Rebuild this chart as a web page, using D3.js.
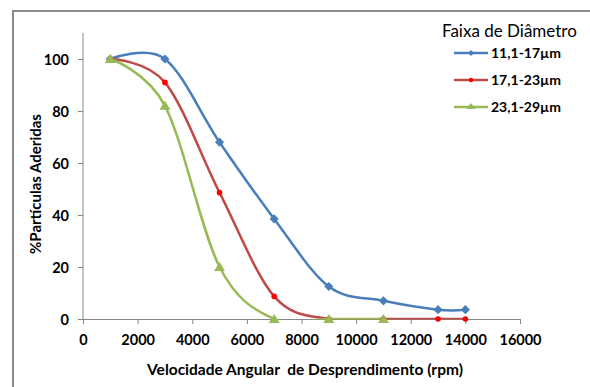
<!DOCTYPE html>
<html>
<head>
<meta charset="utf-8">
<script src="https://cdn.jsdelivr.net/npm/d3@7"></script>
<style>
  html, body { margin: 0; padding: 0; background: #fff; }
  svg { display: block; font-family: Lato, "Open Sans", sans-serif; }
</style>
</head>
<body>
<svg id="chart" width="590" height="387"></svg>
<script>
// Rotational speed (rpm) at which detachment was measured
const speedsBlue = [1000, 3000, 5000, 7000, 9000, 11000, 13000, 14000];
const speedsRed = [1000, 3000, 5000, 7000, 9000, 11000, 13000, 14000];
const speedsGreen = [1000, 3000, 5000, 7000, 9000, 11000];

// % particles still adhered, per diameter range
const adheredBlue = [100, 100, 68, 38.5, 12.5, 7, 3.6, 3.6];
const adheredRed = [100, 91, 48.6, 8.7, 0, 0, 0, 0];
const adheredGreen = [100, 82, 20, 0, 0, 0];

const seriesNames = ["11,1-17\u00b5m", "17,1-23\u00b5m", "23,1-29\u00b5m"];
const xTicks = [0, 2000, 4000, 6000, 8000, 10000, 12000, 14000, 16000];
const yTicks = [0, 20, 40, 60, 80, 100];

const series = [
  { name: seriesNames[0], xs: speedsBlue, ys: adheredBlue, color: "#4a7ebb", marker: "diamond", mcolor: "#4a7ebb" },
  { name: seriesNames[1], xs: speedsRed, ys: adheredRed, color: "#be4b48", marker: "circle", mcolor: "#ff0000" },
  { name: seriesNames[2], xs: speedsGreen, ys: adheredGreen, color: "#98b954", marker: "triangle", mcolor: "#98b954" }
];

const svg = d3.select("#chart");
const fontFam = "Lato, 'Open Sans', sans-serif";

// outer chart frame
svg.append("path")
  .attr("d", "M13,387 V11 H590")
  .attr("fill", "none").attr("stroke", "#8a8a8a").attr("stroke-width", 2);

const x = d3.scaleLinear().domain([0, 16000]).range([83, 520]);
const y = d3.scaleLinear().domain([0, 110]).range([319, 33]);

// plot area clip: series are cut at the axes
svg.append("clipPath").attr("id", "plotClip")
  .append("rect")
  .attr("x", x(0)).attr("y", y(110))
  .attr("width", x(16000) - x(0)).attr("height", y(0) - y(110) + 0.6);

// axes
const axisColor = "#868686";
const gx = svg.append("g").attr("transform", `translate(0,${y(0)})`)
  .call(d3.axisBottom(x).tickValues(xTicks).tickSize(5).tickSizeOuter(0).tickFormat(d3.format("d")));
const gy = svg.append("g").attr("transform", `translate(${x(0)},0)`)
  .call(d3.axisLeft(y).tickValues(yTicks).tickSize(5).tickSizeOuter(0));

[gx, gy].forEach(g => {
  g.select(".domain").attr("stroke", axisColor);
  g.selectAll(".tick line").attr("stroke", axisColor);
  g.selectAll(".tick text")
    .attr("fill", "#000").attr("font-size", 14.5).attr("font-weight", "bold")
    .attr("font-family", fontFam);
});
gy.select(".domain").attr("d", `M0,${y(110)}V${y(0)}`);
gx.selectAll(".tick text").attr("dy", "0").attr("y", 26);
gy.selectAll(".tick text").attr("x", -14).attr("dy", "0.36em");

// axis titles
svg.append("text")
  .attr("x", 305).attr("y", 375)
  .attr("text-anchor", "middle").attr("font-size", 15.5).attr("font-weight", "bold")
  .attr("xml:space", "preserve")
  .text("Velocidade Angular  de Desprendimento (rpm)");
svg.append("text")
  .attr("transform", "translate(41,184) rotate(-90)")
  .attr("text-anchor", "middle").attr("font-size", 15).attr("font-weight", "bold")
  .text("%Part\u00edculas Aderidas");

// smoothed series lines
const line = d3.line().x(d => x(d[0])).y(d => y(d[1])).curve(d3.curveCardinal.tension(0));

function drawMarker(g, type, cx, cy, color) {
  if (type === "diamond") {
    const r = 4.6;
    g.append("path").attr("d", `M${cx},${cy - r}L${cx + r},${cy}L${cx},${cy + r}L${cx - r},${cy}Z`)
      .attr("fill", color);
  } else if (type === "circle") {
    g.append("circle").attr("cx", cx).attr("cy", cy).attr("r", 2.8).attr("fill", color);
  } else {
    g.append("path").attr("d", `M${cx},${cy - 5}L${cx + 5.5},${cy + 4}L${cx - 5.5},${cy + 4}Z`)
      .attr("fill", color);
  }
}

const linesG = svg.append("g").attr("clip-path", "url(#plotClip)");
series.forEach(s => {
  const pts = s.xs.map((v, i) => [v, s.ys[i]]);
  linesG.append("path").datum(pts)
    .attr("d", line).attr("fill", "none")
    .attr("stroke", s.color).attr("stroke-width", 2.5);
});
series.forEach(s => {
  const g = svg.append("g");
  s.xs.forEach((v, i) => drawMarker(g, s.marker, x(v), y(s.ys[i]), s.mcolor));
});

// legend
svg.append("text")
  .attr("x", 442).attr("y", 37).attr("font-size", 17)
  .attr("font-family", fontFam)
  .text("Faixa de Di\u00e2metro");
series.forEach((s, i) => {
  const ly = 53 + i * 27;
  const g = svg.append("g");
  g.append("line").attr("x1", 454).attr("x2", 488).attr("y1", ly).attr("y2", ly)
    .attr("stroke", s.color).attr("stroke-width", 2.5);
  if (s.marker === "circle") {
    g.append("circle").attr("cx", 471).attr("cy", ly).attr("r", 2.2).attr("fill", s.mcolor);
  } else if (s.marker === "diamond") {
    g.append("path").attr("d", `M471,${ly - 3}L474,${ly}L471,${ly + 3}L468,${ly}Z`).attr("fill", s.mcolor);
  } else {
    g.append("path").attr("d", `M471,${ly - 4}L475.5,${ly + 2}L466.5,${ly + 2}Z`).attr("fill", s.mcolor);
  }
  g.append("text").attr("x", 491).attr("y", ly).attr("dy", "0.35em")
    .attr("font-size", 14).attr("font-weight", "bold").text(s.name);
});
</script>
</body>
</html>
